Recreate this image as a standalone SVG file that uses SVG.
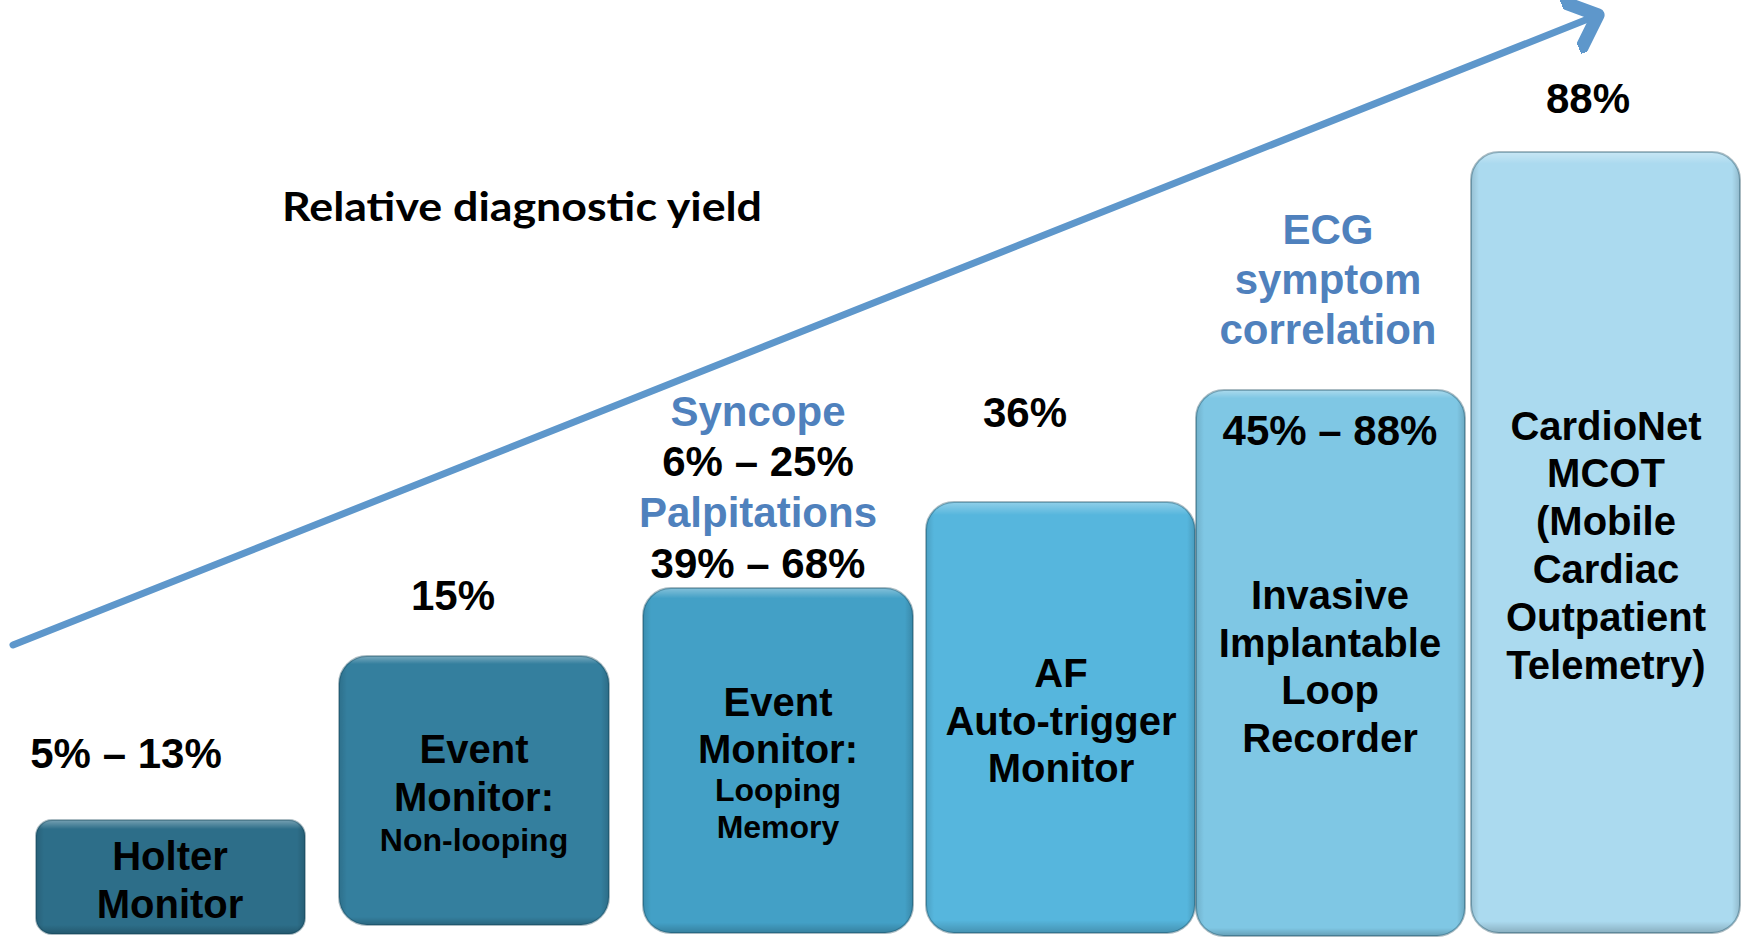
<svg xmlns="http://www.w3.org/2000/svg" width="1745" height="937" viewBox="0 0 1745 937">
<style>
  .bt { font-family: "Liberation Sans", Arial, sans-serif; font-weight: bold; font-size: 40px; fill: #000; text-anchor: middle; }
  .sm { font-size: 32px; }
  .pc { font-family: "Liberation Sans", Arial, sans-serif; font-weight: bold; font-size: 42px; fill: #000; text-anchor: middle; }
  .bl { font-family: "Liberation Sans", Arial, sans-serif; font-weight: bold; font-size: 42px; fill: #4F81BD; text-anchor: middle; }
  .title { font-family: Lato, "Open Sans", sans-serif; font-weight: bold; font-size: 40px; fill: #000; }
  .edge { fill: none; stroke: #0b3b4f; stroke-opacity: 0.35; stroke-width: 2; }
  .arrow { fill: none; stroke: #5E97CB; stroke-width: 7; stroke-linecap: round; stroke-linejoin: round; }
</style>
<defs>
  <linearGradient id="shS" x1="0" y1="0" x2="0" y2="1">
    <stop offset="0" stop-color="#fff" stop-opacity="0.35"/>
    <stop offset="0.08" stop-color="#fff" stop-opacity="0"/>
    <stop offset="0.92" stop-color="#000" stop-opacity="0"/>
    <stop offset="1" stop-color="#000" stop-opacity="0.2"/>
  </linearGradient>
  <linearGradient id="shM" x1="0" y1="0" x2="0" y2="1">
    <stop offset="0" stop-color="#fff" stop-opacity="0.35"/>
    <stop offset="0.03" stop-color="#fff" stop-opacity="0"/>
    <stop offset="0.97" stop-color="#000" stop-opacity="0"/>
    <stop offset="1" stop-color="#000" stop-opacity="0.2"/>
  </linearGradient>
  <linearGradient id="shL" x1="0" y1="0" x2="0" y2="1">
    <stop offset="0" stop-color="#fff" stop-opacity="0.35"/>
    <stop offset="0.015" stop-color="#fff" stop-opacity="0"/>
    <stop offset="0.985" stop-color="#000" stop-opacity="0"/>
    <stop offset="1" stop-color="#000" stop-opacity="0.2"/>
  </linearGradient>
  <linearGradient id="shH" x1="0" y1="0" x2="1" y2="0">
    <stop offset="0" stop-color="#000" stop-opacity="0.12"/>
    <stop offset="0.03" stop-color="#000" stop-opacity="0"/>
    <stop offset="0.97" stop-color="#000" stop-opacity="0"/>
    <stop offset="1" stop-color="#000" stop-opacity="0.15"/>
  </linearGradient>
  <marker id="chev" viewBox="-12 -12 24 24" markerUnits="userSpaceOnUse" markerWidth="60" markerHeight="60" refX="0" refY="0" orient="auto">
    <path d="M-10,-9 L0,0 L-10,9" fill="none" stroke="#5E97CB" stroke-width="2.4" stroke-linecap="round" stroke-linejoin="round" transform="scale(2.2)"/>
  </marker>
</defs>
<rect width="1745" height="937" fill="#fff"/>

<g id="connectors">
  <line class="arrow" x1="13" y1="645" x2="1598" y2="15" marker-end="url(#chev)"/>
</g>

<text class="title" x="282" y="221" textLength="480" lengthAdjust="spacingAndGlyphs">Relative diagnostic yield</text>

<g id="holter">
  <rect x="36" y="820" width="269" height="114" rx="16" fill="#2D6E89"/>
  <rect x="36" y="820" width="269" height="114" rx="16" fill="url(#shS)"/>
  <rect x="36" y="820" width="269" height="114" rx="16" fill="url(#shH)"/>
  <rect class="edge" x="36" y="820" width="269" height="114" rx="16"/>
  <text class="bt" x="170" y="870">Holter</text>
  <text class="bt" x="170" y="918">Monitor</text>
</g>
<text class="pc" x="126" y="768">5% – 13%</text>

<g id="event-nonlooping">
  <rect x="339" y="656" width="270" height="269" rx="28" fill="#347F9E"/>
  <rect x="339" y="656" width="270" height="269" rx="28" fill="url(#shM)"/>
  <rect x="339" y="656" width="270" height="269" rx="28" fill="url(#shH)"/>
  <rect class="edge" x="339" y="656" width="270" height="269" rx="28"/>
  <text class="bt" x="474" y="763">Event</text>
  <text class="bt" x="474" y="811">Monitor:</text>
  <text class="bt sm" x="474" y="851">Non-looping</text>
</g>
<text class="pc" x="453" y="610">15%</text>

<g id="event-looping">
  <rect x="643" y="588" width="270" height="345" rx="28" fill="#43A0C6"/>
  <rect x="643" y="588" width="270" height="345" rx="28" fill="url(#shM)"/>
  <rect x="643" y="588" width="270" height="345" rx="28" fill="url(#shH)"/>
  <rect class="edge" x="643" y="588" width="270" height="345" rx="28"/>
  <text class="bt" x="778" y="716">Event</text>
  <text class="bt" x="778" y="763">Monitor:</text>
  <text class="bt sm" x="778" y="801">Looping</text>
  <text class="bt sm" x="778" y="838">Memory</text>
</g>
<text class="bl" x="758" y="426">Syncope</text>
<text class="pc" x="758" y="476">6% – 25%</text>
<text class="bl" x="758" y="527">Palpitations</text>
<text class="pc" x="758" y="578">39% – 68%</text>

<g id="af-monitor">
  <rect x="926" y="502" width="269" height="431" rx="28" fill="#56B6DD"/>
  <rect x="926" y="502" width="269" height="431" rx="28" fill="url(#shM)"/>
  <rect x="926" y="502" width="269" height="431" rx="28" fill="url(#shH)"/>
  <rect class="edge" x="926" y="502" width="269" height="431" rx="28"/>
  <text class="bt" x="1061" y="687">AF</text>
  <text class="bt" x="1061" y="735">Auto-trigger</text>
  <text class="bt" x="1061" y="782">Monitor</text>
</g>
<text class="pc" x="1025" y="427">36%</text>

<g id="ilr">
  <rect x="1196" y="390" width="269" height="546" rx="28" fill="#7FC7E4"/>
  <rect x="1196" y="390" width="269" height="546" rx="28" fill="url(#shL)"/>
  <rect x="1196" y="390" width="269" height="546" rx="28" fill="url(#shH)"/>
  <rect class="edge" x="1196" y="390" width="269" height="546" rx="28"/>
  <text class="pc" x="1330" y="445">45% – 88%</text>
  <text class="bt" x="1330" y="609">Invasive</text>
  <text class="bt" x="1330" y="657">Implantable</text>
  <text class="bt" x="1330" y="704">Loop</text>
  <text class="bt" x="1330" y="752">Recorder</text>
</g>
<text class="bl" x="1328" y="244">ECG</text>
<text class="bl" x="1328" y="294">symptom</text>
<text class="bl" x="1328" y="344">correlation</text>

<g id="cardionet">
  <rect x="1471" y="152" width="269" height="781" rx="28" fill="#ABDAEF"/>
  <rect x="1471" y="152" width="269" height="781" rx="28" fill="url(#shL)"/>
  <rect x="1471" y="152" width="269" height="781" rx="28" fill="url(#shH)"/>
  <rect class="edge" x="1471" y="152" width="269" height="781" rx="28"/>
  <text class="bt" x="1606" y="440">CardioNet</text>
  <text class="bt" x="1606" y="487">MCOT</text>
  <text class="bt" x="1606" y="535">(Mobile</text>
  <text class="bt" x="1606" y="583">Cardiac</text>
  <text class="bt" x="1606" y="631">Outpatient</text>
  <text class="bt" x="1606" y="679">Telemetry)</text>
</g>
<text class="pc" x="1588" y="113">88%</text>
</svg>
